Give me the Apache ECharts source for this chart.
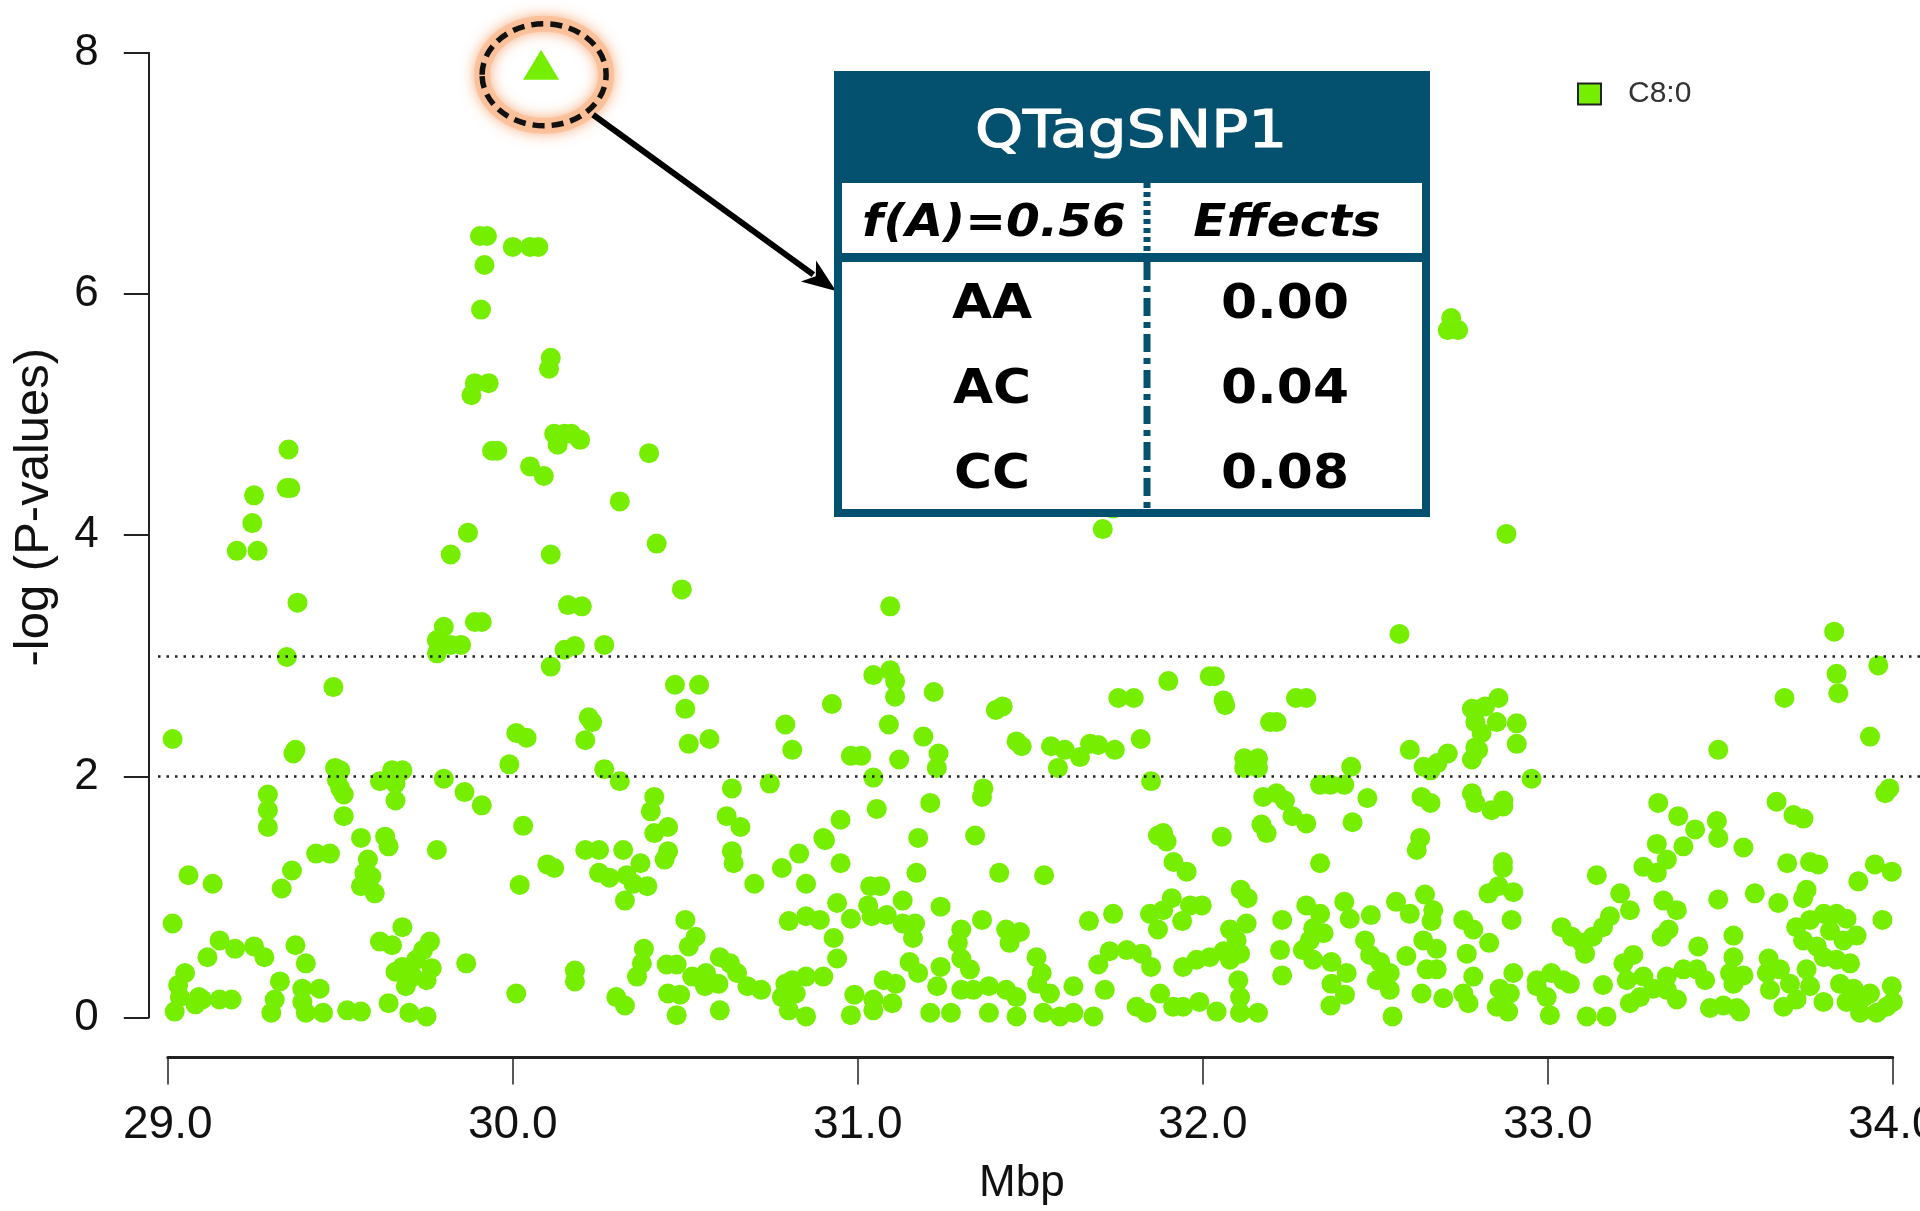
<!DOCTYPE html>
<html>
<head>
<meta charset="utf-8">
<script src="https://cdn.jsdelivr.net/npm/echarts@6/dist/echarts.min.js"></script>
<style>
html,body{margin:0;padding:0;background:#fff;}
#main{width:1920px;height:1211px;}
</style>
</head>
<body>
<div id="main"></div>
<script>
// SNP positions (Mbp) and -log(P) values
var mbp = [
	29.20,29.26,29.82,30.11,29.376,
	29.80,29.89,29.91,29.78,29.85,29.82,29.78,
	30.16,30.20,30.15,30.18,30.11,29.345,29.48,
	29.014,29.364,29.37,30.22,30.23,30.21,30.01,30.04,29.99,
	29.485,29.50,29.49,29.50,29.51,29.51,
	29.615,29.65,29.68,29.66,29.66,29.80,29.86,29.91,
	29.29,29.29,29.29,30.03,29.56,29.63,29.64,
	29.43,29.47,29.78,30.21,30.25,30.10,30.12,
	29.58,29.57,29.59,29.56,29.60,29.06,29.13,29.36,29.33,30.02,
	29.014,29.68,29.615,29.65,29.76,29.74,
	29.15,29.195,29.25,29.28,29.115,29.37,29.40,29.865,30.18,30.18,
	29.05,29.03,29.035,29.09,29.10,29.08,29.02,29.15,29.185,
	29.325,29.31,29.30,29.39,29.39,29.40,29.44,29.45,29.52,29.56,29.64,
	29.66,29.69,29.72,29.71,29.765,29.75,29.69,29.68,29.70,29.75,30.01,
	30.417,30.49,30.265,30.47,30.54,30.50,30.51,30.57,31.094,
	30.265,30.31,30.41,30.40,30.41,30.45,30.45,30.44,30.32,
	30.25,30.28,30.33,30.37,30.39,30.325,30.35,
	30.635,30.62,30.66,30.635,30.64,30.745,30.70,
	30.79,30.81,30.78,30.83,30.85,30.925,30.95,30.905,30.90,30.95,
	30.98,31.01,31.045,31.094,31.108,31.108,31.09,31.12,31.045,31.055,
	31.22,31.19,31.234,31.229,31.21,31.175,31.17,
	31.364,31.36,31.34,31.40,31.42,31.46,31.475,31.41,
	31.13,31.24,31.036,31.065,31.03,31.04,31.084,30.94,30.98,
	31.13,31.166,31.16,31.36,31.30,31.29,31.30,31.43,31.47,31.44,
	30.80,30.85,30.89,30.93,30.94,30.50,30.53,30.51,
	30.38,30.374,30.36,30.446,30.475,30.30,30.325,30.45,30.485,30.475,
	30.52,30.56,30.60,30.63,30.65,30.557,30.596,30.68,30.72,30.60,
	30.79,30.81,30.85,30.90,30.78,30.80,30.85,30.82,
	30.99,30.98,31.045,31.075,31.11,31.10,31.045,31.15,31.175,
	31.24,31.23,31.21,31.27,31.30,31.325,31.335,
	31.38,31.43,31.46,31.38,31.46,31.52,
	32.57,31.90,32.02,32.035,32.06,32.065,31.755,31.80,32.27,32.30,
	32.195,32.214,31.82,31.71,31.74,
	31.56,31.60,31.644,31.673,31.697,31.745,31.58,31.85,
	32.12,32.16,32.12,32.16,32.43,32.34,32.37,32.41,
	32.175,32.214,32.238,32.477,32.26,32.30,32.434,32.17,32.185,
	32.60,32.64,32.66,32.71,32.68,
	32.78,32.79,32.79,32.78,32.78,32.79,32.634,32.66,32.63,32.62,
	31.87,31.885,31.895,32.055,31.915,31.953,32.34,31.54,32.11,32.13,
	31.91,31.963,31.997,31.847,31.885,31.94,31.87,31.67,31.74,32.23,
	32.30,32.34,32.41,32.426,32.487,32.56,32.60,32.644,32.668,32.663,
	32.755,32.784,32.32,32.31,32.29,32.32,32.35,32.224,32.23,
	32.079,32.127,32.098,32.079,32.108,31.943,31.982,32.02,32.06,
	31.697,31.73,31.78,31.823,31.85,31.518,31.533,31.557,31.625,31.716,
	31.538,31.586,31.625,31.683,31.808,31.837,31.876,31.914,31.943,31.99,32.04,
	32.103,32.108,32.108,32.16,32.373,32.417,32.373,32.412,32.37,
	32.47,32.485,32.514,32.542,32.504,32.542,32.55,
	32.59,32.639,32.678,32.649,32.678,32.634,32.697,32.765,32.784,32.755,32.77,
	32.88,33.83,33.837,33.842,33.958,33.686,33.934,33.494,
	32.857,32.818,32.852,32.91,32.808,32.798,32.91,32.953,
	32.837,32.871,32.871,32.87,32.87,32.828,32.857,32.90,32.895,32.83,
	33.32,33.378,33.427,33.393,33.316,33.345,33.277,33.316,33.49,33.494,33.567,
	33.663,33.712,33.741,33.694,33.76,33.784,33.99,33.978,33.948,33.997,33.90,
	33.142,33.21,33.238,33.18,33.16,33.13,33.10,33.07,33.04,33.108,
	33.335,33.374,33.33,33.35,33.494,33.60,33.668,33.75,33.74,33.97,33.538,33.436,
	33.72,33.76,33.80,33.837,33.866,33.895,33.857,33.74,33.78,33.80,33.837,33.876,33.818,
	33.248,33.219,32.90,32.86,32.89,32.852,32.885,
	32.968,33.01,33.045,33.064,32.997,32.968,33.006,33.16,33.113,33.17,
	33.229,33.277,33.306,33.238,33.267,33.345,33.393,33.432,33.456,33.374,33.345,
	33.47,33.509,33.548,33.557,33.538,33.528,33.567,33.538,
	33.64,33.635,33.673,33.644,33.683,33.721,33.702,33.75,33.76,33.799,
	33.847,33.886,33.915,33.866,33.905,33.953,33.982,33.997,34.0,33.934,
	29.905,29.925,30.00,30.05,30.074,29.918,29.908,
	30.11,30.105,29.89,29.93,29.88,
	30.12,30.15,30.17,30.195,30.13,29.94,29.955,30.05,30.09,
	29.35,29.25,29.245,29.345,29.355,29.87,30.31,30.395,
	32.72,32.71,32.74
];
var negLogP = [
	3.87,3.87,3.84,3.84,3.44,
	3.24,3.28,3.28,3.13,3.09,3.09,3.02,
	3.42,3.41,3.05,3.08,2.91,2.99,2.74,
	2.31,2.19,2.22,2.49,2.45,2.30,2.36,2.32,2.10,
	2.07,2.05,1.97,1.90,1.85,1.67,
	1.96,2.05,2.05,1.94,1.80,1.98,1.87,1.76,
	1.85,1.72,1.58,1.59,1.49,1.50,1.42,
	1.36,1.36,1.39,1.39,1.39,1.27,1.24,
	1.31,1.20,1.17,1.09,1.03,1.18,1.11,1.22,1.07,1.10,
	0.78,0.75,0.63,0.60,0.63,0.56,
	0.64,0.57,0.59,0.50,0.50,0.60,0.45,0.45,0.39,0.30,
	0.37,0.27,0.17,0.17,0.15,0.11,0.05,0.15,0.15,
	0.30,0.15,0.04,0.24,0.13,0.04,0.24,0.04,0.06,0.05,0.12,
	0.38,0.36,0.48,0.34,0.41,0.31,0.26,0.42,0.04,0.01,0.20,
	3.93,3.55,3.09,2.76,2.76,2.56,2.27,2.31,3.41,
	2.06,1.96,1.83,1.71,1.53,1.58,1.38,1.31,1.39,
	1.20,1.16,1.18,1.28,1.09,0.97,1.11,
	1.90,1.67,1.58,1.38,1.28,1.94,1.11,
	2.43,2.22,1.24,1.36,1.11,2.60,1.64,1.47,1.49,1.28,
	2.17,2.17,2.84,2.88,2.79,2.66,2.43,2.14,1.99,1.73,
	2.70,2.33,2.19,2.07,1.78,1.49,1.20,
	1.90,1.83,1.51,2.55,2.58,2.29,2.25,1.20,
	0.97,0.92,1.09,1.09,0.93,0.84,0.85,0.95,0.82,
	0.78,0.78,0.66,0.81,0.73,0.62,0.49,0.73,0.71,0.62,
	0.80,0.84,0.81,0.66,0.49,0.81,0.67,0.59,
	0.57,0.45,0.34,0.44,0.44,0.17,0.10,0.20,0.19,0.02,
	0.34,0.37,0.50,0.45,0.37,0.26,0.28,0.26,0.23,0.06,
	0.28,0.31,0.34,0.34,0.17,0.06,0.01,0.20,
	0.19,0.02,0.15,0.31,0.28,0.12,0.06,0.46,0.37,
	0.42,0.26,0.04,0.04,0.23,0.40,0.23,
	0.26,0.23,0.17,0.04,0.01,0.28,
	3.18,2.79,2.83,2.83,2.63,2.59,2.65,2.65,2.65,2.65,
	2.45,2.45,2.31,4.05,4.22,
	2.25,2.22,2.16,2.27,2.26,2.22,2.07,1.96,
	2.15,2.15,2.07,2.07,2.08,1.93,1.93,1.93,
	1.83,1.86,1.80,1.82,1.67,1.61,1.62,1.60,1.53,
	2.22,2.08,2.05,2.19,2.11,
	2.56,2.45,2.24,2.14,1.86,1.78,1.83,1.78,1.49,1.39,
	1.51,1.53,1.46,1.50,1.29,1.21,1.28,1.18,1.06,0.99,
	0.99,0.93,0.93,0.86,0.89,0.80,0.73,0.80,0.86,0.81,
	0.93,0.86,0.96,0.82,0.85,0.96,0.86,1.02,0.89,0.80,
	0.81,0.73,0.74,0.64,0.56,0.48,0.70,0.56,0.35,
	0.73,0.78,0.64,0.48,0.53,0.42,0.48,0.50,0.55,
	0.44,0.55,0.56,0.53,0.42,0.50,0.37,0.20,0.26,0.23,
	0.04,0.01,0.04,0.01,0.09,0.04,0.20,0.09,0.09,0.13,0.05,
	0.31,0.17,0.04,0.04,0.46,0.37,0.28,0.19,0.10,
	0.64,0.52,0.46,0.37,0.31,0.23,0.01,
	0.51,0.64,0.57,0.40,0.40,0.20,0.16,0.53,0.34,0.20,0.12,
	4.01,3.20,2.85,2.69,2.92,2.65,2.33,2.22,
	2.65,2.58,2.45,2.44,2.36,2.22,2.27,1.98,
	1.72,1.80,1.75,1.29,1.24,1.03,1.09,1.04,0.81,0.62,
	1.78,1.67,1.56,1.42,1.44,1.31,1.25,1.20,1.63,1.49,1.41,
	1.79,1.68,1.65,1.28,1.29,1.27,1.90,1.86,1.27,1.21,1.13,
	1.18,1.03,0.89,0.84,0.75,0.67,0.62,0.67,0.75,0.53,
	0.97,0.89,0.67,0.73,0.98,1.03,0.95,1.06,0.99,0.81,0.68,0.59,
	0.75,0.81,0.86,0.86,0.82,0.68,0.64,0.64,0.59,0.50,0.48,0.45,0.72,
	0.52,0.45,0.37,0.24,0.20,0.09,0.05,
	0.31,0.37,0.31,0.28,0.17,0.26,0.02,0.27,0.01,0.01,
	0.31,0.34,0.24,0.12,0.17,0.34,0.40,0.40,0.31,0.15,0.23,
	0.08,0.10,0.08,0.05,0.50,0.37,0.35,0.28,
	0.49,0.37,0.40,0.23,0.09,0.15,0.28,0.40,0.26,0.13,
	0.28,0.24,0.17,0.13,0.04,0.04,0.09,0.26,0.13,0.20,
	6.48,6.48,6.39,6.39,6.39,6.24,5.87,
	5.47,5.38,5.26,5.26,5.16,
	4.84,4.84,4.84,4.79,4.75,4.70,4.70,4.57,4.49,
	4.71,4.33,4.10,4.39,4.39,4.02,4.28,4.68,
	5.80,5.70,5.70
];
// the tag SNP (triangle)
var peakMbp = [30.082];
var peakLogP = [7.90];
// dotted threshold lines
var thresholds = [2, 3];
// table texts
var snpName = 'QTagSNP1';
var alleleFreq = 'f(A)=0.56';
var effectHead = 'Effects';
var genotypes = ['AA', 'AC', 'CC'];
var effects = ['0.00', '0.04', '0.08'];
var seriesName = 'C8:0';

var green = '#76ee00';
var teal = '#04516f';
var axisFont = 'Liberation Sans, Arial, sans-serif';
var tableFont = 'DejaVu Sans, sans-serif';

var points = [];
var n = Math.min(mbp.length, negLogP.length);
for (var i = 0; i < n; i++) {
	points.push([mbp[i], negLogP[i]]);
}
var peak = [[peakMbp[0], peakLogP[0]]];

var chart = echarts.init(document.getElementById('main'));

var plotTop = 52.7, plotH = 964.9;
var option = {
	animation: false,
	backgroundColor: '#fff',
	grid: [
		{left: 158, right: 0, top: plotTop, height: plotH, outerBoundsMode: 'none'},      // points + dotted lines
		{left: 167.8, width: 1725, top: plotTop, height: plotH, outerBoundsMode: 'none'}  // visible axes
	],
	legend: {
		data: [seriesName],
		left: 1577,
		top: 79,
		padding: 0,
		icon: 'rect',
		itemWidth: 23,
		itemHeight: 21,
		itemStyle: {borderColor: '#222', borderWidth: 2},
		textStyle: {fontSize: 30, color: '#333', fontFamily: axisFont, padding: [0, 0, 0, 22]}
	},
	xAxis: [{
		gridIndex: 0, type: 'value', min: 28.9716, max: 34.0788, show: false,
		axisLine: {show: false}, splitLine: {show: false}
	}, {
		gridIndex: 1, type: 'value', min: 29, max: 34, interval: 1,
		offset: 40,
		name: 'Mbp', nameLocation: 'middle', nameGap: 104,
		nameTextStyle: {fontSize: 44, color: '#111', fontFamily: axisFont, padding: [0, 17, 0, 0]},
		axisLine: {show: true, onZero: false, lineStyle: {color: '#222', width: 3}},
		axisTick: {show: true, length: 27, lineStyle: {color: '#222', width: 1.5}},
		axisLabel: {
			margin: 45, fontSize: 46, color: '#111', fontFamily: axisFont,
			formatter: function(v){ return v.toFixed(1); }
		},
		splitLine: {show: false}
	}],
	yAxis: [{
		gridIndex: 0, type: 'value', min: 0, max: 8, show: false,
		axisLine: {show: false}, splitLine: {show: false}
	}, {
		gridIndex: 1, type: 'value', min: 0, max: 8, interval: 2,
		offset: 19,
		name: '-log (P-values)', nameLocation: 'middle', nameGap: 90,
		nameTextStyle: {fontSize: 49, color: '#111', fontFamily: axisFont, padding: [0, 0, 0, 56]},
		axisLine: {show: true, onZero: false, lineStyle: {color: '#222', width: 2}},
		axisTick: {show: true, length: 25, lineStyle: {color: '#222', width: 2}},
		axisLabel: {margin: 50, fontSize: 44, color: '#111', fontFamily: axisFont},
		splitLine: {show: false}
	}],
	series: [{
		name: seriesName,
		type: 'scatter',
		xAxisIndex: 0, yAxisIndex: 0,
		symbol: 'circle',
		symbolSize: 20,
		itemStyle: {color: green, opacity: 1},
		emphasis: {disabled: true},
		data: points,
		markLine: {
			silent: true,
			symbol: 'none',
			label: {show: false},
			lineStyle: {type: [2.5, 6], color: '#222', width: 2.5},
			data: thresholds.map(function(v){ return {yAxis: v}; })
		},
		z: 2
	}, {
		name: 'peak',
		type: 'scatter',
		xAxisIndex: 0, yAxisIndex: 0,
		symbol: 'triangle',
		symbolSize: [36, 30],
		itemStyle: {color: green, opacity: 1},
		emphasis: {disabled: true},
		data: peak,
		z: 3
	}, {
		type: 'scatter',
		xAxisIndex: 1, yAxisIndex: 1,
		data: []
	}]
};
chart.setOption(option);

// annotations: dashed glowing ellipse, arrow and the genotype table
var p = chart.convertToPixel({gridIndex: 0}, peak[0]);
var cx = p[0] + 3, cy = p[1] + 10;

var tx0 = 834, tx1 = 1430, ty0 = 71, ty1 = 517;
var headBot = 183, sepTop = 253, sepH = 9, colX = 1147;
var bw = 8;
var leftC = 994, rightC = 1287;
var rowY = [302, 387, 472];

var arrowFrom = [cx + 49, cy + 40];
var arrowTo = [tx0 + 2, 291];
var dx = arrowTo[0] - arrowFrom[0], dy = arrowTo[1] - arrowFrom[1];
var len = Math.sqrt(dx * dx + dy * dy);
var ux = dx / len, uy = dy / len;
var headL = 34, headW = 13;
var bx = arrowTo[0] - ux * headL, by = arrowTo[1] - uy * headL;

var els = [];
// ellipse glow + dashes
els.push({
	type: 'ellipse', z: 100,
	shape: {cx: cx, cy: cy, rx: 62, ry: 51},
	style: {fill: null, stroke: 'rgba(250,190,150,0.85)', lineWidth: 16,
		shadowBlur: 14, shadowColor: 'rgba(245,150,90,0.9)'}
});
els.push({
	type: 'ellipse', z: 101,
	shape: {cx: cx, cy: cy, rx: 62, ry: 51},
	style: {fill: null, stroke: '#111', lineWidth: 5.5, lineDash: [12, 7]}
});
// arrow
els.push({
	type: 'line', z: 101,
	shape: {x1: arrowFrom[0], y1: arrowFrom[1], x2: bx + ux * 6, y2: by + uy * 6},
	style: {stroke: '#000', lineWidth: 6}
});
els.push({
	type: 'polygon', z: 101,
	shape: {points: [arrowTo, [bx - uy * headW, by + ux * headW], [bx + ux * 9, by + uy * 9], [bx + uy * headW, by - ux * headW]]},
	style: {fill: '#000'}
});
// table body
els.push({type: 'rect', z: 100, shape: {x: tx0, y: ty0, width: tx1 - tx0, height: ty1 - ty0}, style: {fill: '#fff'}});
els.push({type: 'rect', z: 101, shape: {x: tx0, y: ty0, width: tx1 - tx0, height: headBot - ty0}, style: {fill: teal}});
els.push({type: 'rect', z: 101, shape: {x: tx0, y: sepTop, width: tx1 - tx0, height: sepH}, style: {fill: teal}});
els.push({type: 'rect', z: 102,
	shape: {x: tx0 + bw / 2, y: ty0 + bw / 2, width: tx1 - tx0 - bw, height: ty1 - ty0 - bw},
	style: {fill: null, stroke: teal, lineWidth: bw}});
els.push({type: 'line', z: 102, shape: {x1: colX, y1: headBot, x2: colX, y2: sepTop},
	style: {stroke: teal, lineWidth: 7, lineDash: [5, 4]}});
els.push({type: 'line', z: 102, shape: {x1: colX, y1: sepTop + sepH, x2: colX, y2: ty1 - bw},
	style: {stroke: teal, lineWidth: 7, lineDash: [18, 6, 6, 6]}});
// table texts
els.push({type: 'text', z: 103, x: (tx0 + tx1) / 2 - 1, y: 134, scaleX: 1.2,
	style: {text: snpName, fill: '#fff', stroke: '#fff', lineWidth: 1.2,
		font: 'normal 51px ' + tableFont, align: 'center', verticalAlign: 'middle'}});
els.push({type: 'text', z: 103, x: leftC, y: 224, scaleX: 1.08,
	style: {text: alleleFreq, fill: '#000', font: 'italic bold 45px ' + tableFont, align: 'center', verticalAlign: 'middle'}});
els.push({type: 'text', z: 103, x: rightC, y: 224, scaleX: 1.08,
	style: {text: effectHead, fill: '#000', font: 'italic bold 45px ' + tableFont, align: 'center', verticalAlign: 'middle'}});
for (var r = 0; r < genotypes.length; r++) {
	els.push({type: 'text', z: 103, x: leftC - 2, y: rowY[r] + 4, scaleX: 1.08,
		style: {text: genotypes[r], fill: '#000', font: 'bold 48px ' + tableFont, align: 'center', verticalAlign: 'middle'}});
	els.push({type: 'text', z: 103, x: rightC - 2, y: rowY[r] + 4, scaleX: 1.08,
		style: {text: effects[r], fill: '#000', font: 'bold 48px ' + tableFont, align: 'center', verticalAlign: 'middle'}});
}
chart.setOption({graphic: {elements: els}});
</script>
</body>
</html>
